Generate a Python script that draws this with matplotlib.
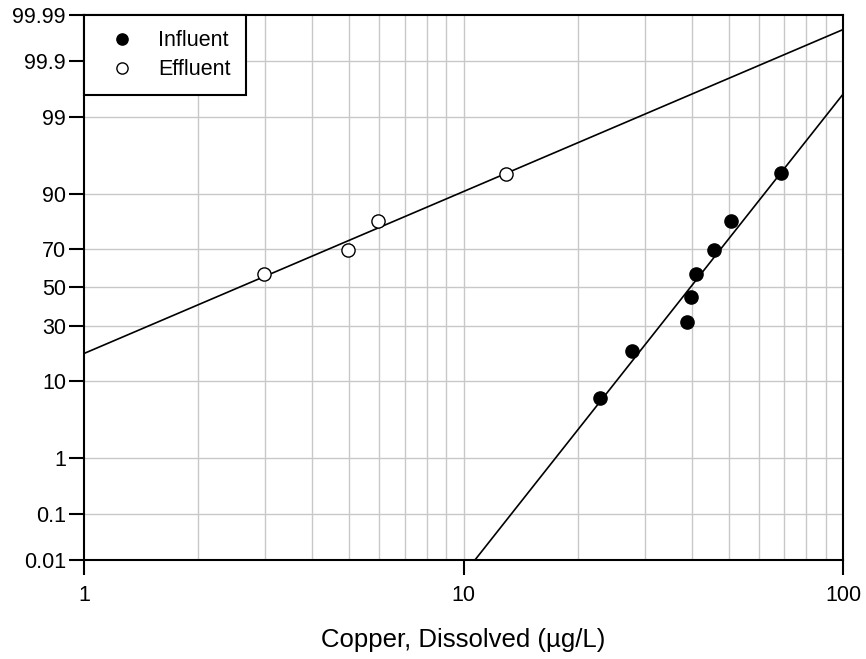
import numpy as np
import matplotlib
matplotlib.use("Agg")
import matplotlib.pyplot as plt
from statistics import NormalDist

plt.rcParams['font.family'] = ['Liberation Sans', 'DejaVu Sans']

# Data
influent_conc = [22.9, 27.8, 38.8, 39.8, 41.0, 45.7, 50.7, 68.6]
influent_pct = [6.5, 19.3, 31.7, 44.7, 57.1, 69.6, 81.9, 94.05]
effluent_conc = [2.98, 4.96, 5.95, 12.94]
effluent_pct = [57.1, 69.4, 81.9, 94.0]

y_ticks = [0.01, 0.1, 1, 10, 30, 50, 70, 90, 99, 99.9, 99.99]
y_labels = ['0.01', '0.1', '1', '10', '30', '50', '70', '90', '99', '99.9', '99.99']
x_ticks = [1, 10, 100]
x_labels = ['1', '10', '100']

nd = NormalDist()
def z(p):
    return np.array([nd.inv_cdf(v / 100.0) for v in np.atleast_1d(p)])

fig = plt.figure(figsize=(8.66, 6.59), dpi=100)
ax = fig.add_axes([84/866, 1-560/659, (843-84)/866, (560-15)/659])

ax.set_xscale('log')
ax.set_xlim(1, 100)
ax.set_ylim(z(0.01)[0], z(99.99)[0])

# grid
minor = [m * d for d in (1, 10) for m in range(2, 10)] + [10]
for xv in minor:
    ax.axvline(xv, color='#c8c8c8', lw=1.0, zorder=0)
for yv in z(y_ticks[1:-1]):
    ax.axhline(yv, color='#c8c8c8', lw=1.0, zorder=0)

# fitted lines
xx = np.array([1.0, 100.0])
for conc, pct in ((influent_conc, influent_pct), (effluent_conc, effluent_pct)):
    b, a = np.polyfit(np.log10(conc), z(pct), 1)
    ax.plot(xx, a + b * np.log10(xx), color='black', lw=1.2, zorder=2)

ax.plot(influent_conc, z(influent_pct), 'o', color='black', ms=9.5,
        label='Influent', zorder=3)
ax.plot(effluent_conc, z(effluent_pct), 'o', mfc='white', mec='black',
        mew=1.0, ms=9.5, label='Effluent', zorder=3)

ax.set_yticks(z(y_ticks))
ax.set_yticklabels(y_labels)
ax.set_xticks(x_ticks)
ax.set_xticklabels(x_labels)
ax.xaxis.set_minor_locator(matplotlib.ticker.NullLocator())
ax.tick_params(axis='both', which='major', direction='out', length=11,
               width=1.5, labelsize=15.5, color='black', pad=2)
ax.tick_params(axis='x', pad=7)
for s in ax.spines.values():
    s.set_linewidth(1.5)
    s.set_zorder(4)

ax.set_xlabel('Copper, Dissolved (\u00b5g/L)', fontsize=18.5, labelpad=16)

leg = ax.legend(loc='upper left', borderaxespad=0, fancybox=False,
                edgecolor='black', framealpha=1, fontsize=15.5,
                handlelength=2.1, handletextpad=0.65, borderpad=0.7,
                labelspacing=0.38, markerscale=0.85)
leg.get_frame().set_linewidth(1.5)
leg.set_zorder(5)

fig.savefig('out.png', dpi=100)
